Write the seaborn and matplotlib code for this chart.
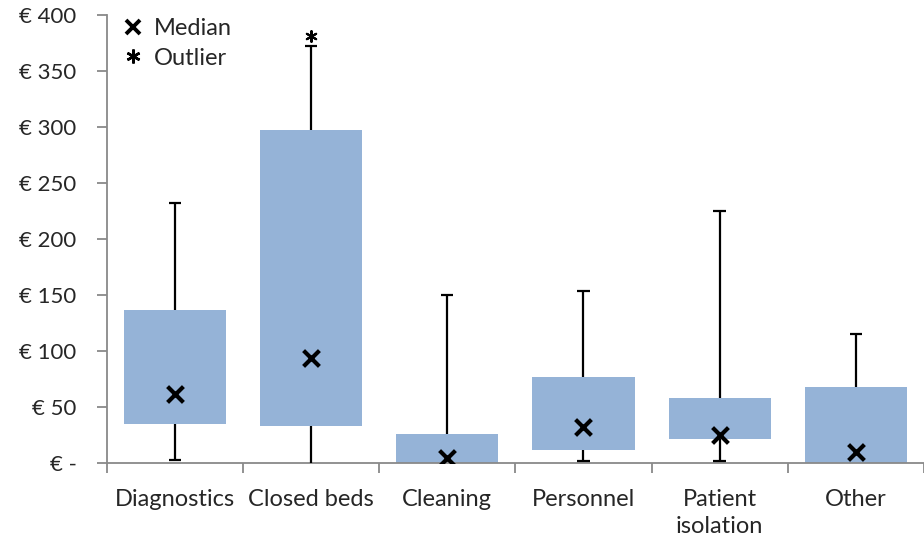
import numpy as np
import pandas as pd
import seaborn as sns
import matplotlib.pyplot as plt
from matplotlib.lines import Line2D
from matplotlib.ticker import FuncFormatter, FixedLocator

categories = ["Diagnostics", "Closed beds", "Cleaning", "Personnel", "Patient\nisolation", "Other"]
whisker_low = [3, 0, 0, 2, 1.5, 0]
q1 = [35, 33, 0, 12, 21, 0]
median = [62, 94, 4, 32, 25, 10]
q3 = [137, 297, 26, 77, 58, 68]
whisker_high = [232, 372, 150, 154, 225, 115]
outlier_cat = ["Closed beds"]
outlier_val = [381]

box_color = "#95B3D7"
axis_color = "#898989"

df = pd.DataFrame({"cat": categories, "low": whisker_low, "q1": q1, "med": median,
                   "q3": q3, "high": whisker_high})
df["lower"] = df["med"] - df["q1"]
df["upper"] = df["q3"] - df["med"]

sns.set_style("white")
plt.rcParams['font.family'] = ['Lato', 'DejaVu Sans']

fig = plt.figure(figsize=(9.24, 5.42), dpi=100)
ax = fig.add_axes([0.1158, 0.1458, 0.884, 0.8265])

# stacked bars: q1 -> median -> q3
sns.barplot(data=df, x="cat", y="lower", bottom=df["q1"].values, color=box_color,
            saturation=1, width=0.75, linewidth=0, ax=ax)
sns.barplot(data=df, x="cat", y="upper", bottom=df["med"].values, color=box_color,
            saturation=1, width=0.75, linewidth=0, ax=ax)

xs = np.arange(len(categories))
cap = 0.045
ax.vlines(xs, df["q3"], df["high"], color="black", lw=1.6, zorder=3)
ax.vlines(xs, df["low"], df["q1"], color="black", lw=1.6, zorder=3)
ax.hlines(df["high"], xs - cap, xs + cap, color="black", lw=1.6, zorder=3)
low_mask = df["low"] > 0
ax.hlines(df["low"][low_mask], (xs - cap)[low_mask], (xs + cap)[low_mask], color="black", lw=1.6, zorder=3)

sns.scatterplot(x=categories, y=median, marker="x", s=130, color="black", linewidth=3,
                zorder=4, ax=ax, legend=False)
sns.scatterplot(x=outlier_cat, y=outlier_val, marker=(6, 2, 0), s=60, color="black", linewidth=1.5,
                zorder=4, ax=ax, legend=False)

ax.set_xlim(-0.5, len(categories) - 0.5)
ax.set_ylim(0, 400)
ax.set_yticks(range(0, 401, 50))
ax.yaxis.set_major_formatter(FuncFormatter(lambda v, p: "€ -" if v == 0 else f"€ {int(v)}"))
ax.xaxis.set_minor_locator(FixedLocator(np.arange(-0.5, len(categories), 1.0)))
ax.set_xlabel("")
ax.set_ylabel("")

for s in ["top", "right"]:
    ax.spines[s].set_visible(False)
for s in ["left", "bottom"]:
    ax.spines[s].set_color(axis_color)
    ax.spines[s].set_linewidth(1.3)
ax.tick_params(axis="y", which="major", length=7, width=1.3, color=axis_color, labelsize=16, pad=15, left=True)
ax.tick_params(axis="x", which="major", length=0, labelsize=17, pad=19)
ax.tick_params(axis="x", which="minor", length=7, width=1.3, color=axis_color, bottom=True)
for lbl in ax.get_xticklabels():
    lbl.set_linespacing(1.35)

handles = [Line2D([], [], ls="", marker="x", markersize=10, mew=2.8, color="black"),
           Line2D([], [], ls="", marker=(6, 2, 0), markersize=10, mew=1.8, color="black")]
ax.legend(handles, ["Median", "Outlier"], loc="upper left", bbox_to_anchor=(-0.012, 1.04),
          frameon=False, fontsize=17, handletextpad=0.3, labelspacing=0.35, handlelength=1.2)

fig.savefig("out.png", dpi=100)
